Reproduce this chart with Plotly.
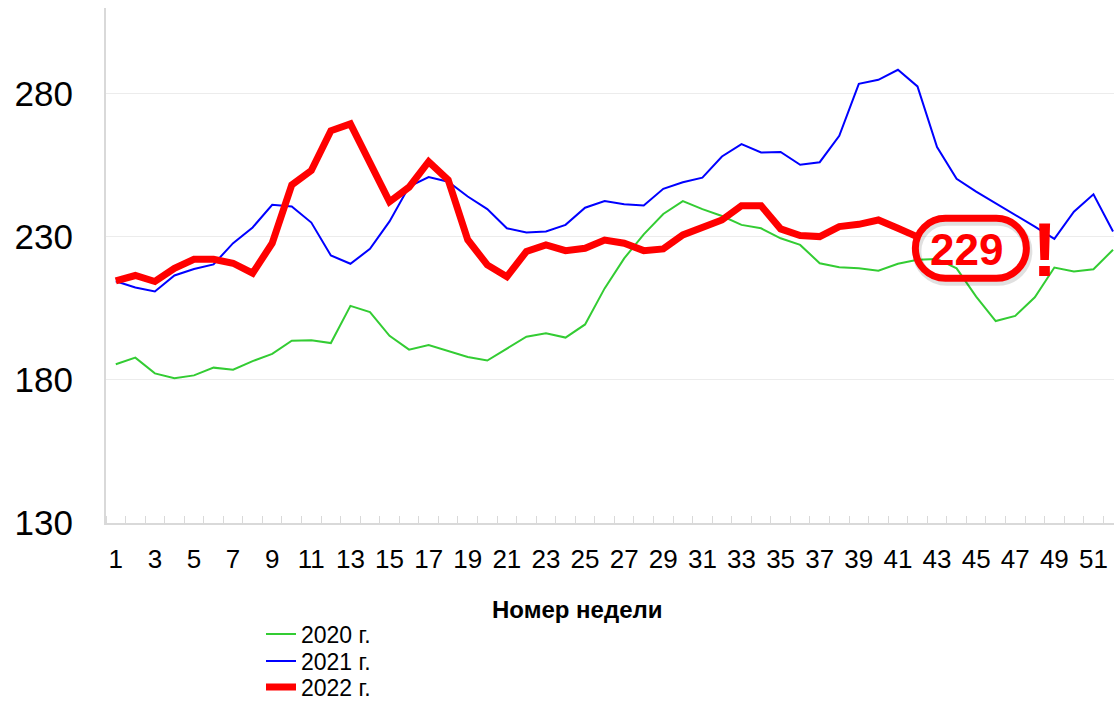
import plotly.graph_objects as go

weeks = list(range(1, 53))
tick_weeks = list(range(1, 52, 2))
tick_labels = [str(w) for w in tick_weeks]

y_ticks = [130, 180, 230, 280]

v2020 = [185.5, 187.8, 182.3, 180.6, 181.6, 184.3, 183.6, 186.6, 189.1, 193.7,
         193.9, 192.9, 205.9, 203.7, 195.4, 190.6, 192.2, 190.1, 188.0, 186.8,
         190.8, 195.1, 196.3, 194.8, 199.4, 212.0, 222.5, 230.9, 238.0, 242.5,
         239.7, 237.3, 234.2, 233.0, 229.5, 227.2, 220.8, 219.4, 219.0, 218.2,
         220.6, 222.0, 222.3, 219.0, 209.1, 200.6, 202.4, 208.9, 219.3, 217.9,
         218.7, 225.5]

v2021 = [214.5, 212.3, 210.9, 216.5, 218.8, 220.4, 227.8, 233.3, 241.2, 240.6,
         235.0, 223.5, 220.6, 225.8, 235.4, 247.6, 250.9, 249.3, 244.1, 239.7,
         233.0, 231.5, 231.9, 234.2, 240.2, 242.5, 241.4, 241.0, 246.8, 249.1,
         250.7, 258.1, 262.4, 259.5, 259.7, 255.2, 256.1, 265.3, 283.5, 284.9,
         288.4, 282.6, 261.4, 250.3, 245.8, 241.8, 237.7, 233.6, 229.3, 238.8,
         244.9, 231.9]

v2022 = [214.6, 216.5, 214.4, 219.0, 222.2, 222.2, 220.8, 217.3, 227.8, 248.2,
         253.2, 267.1, 269.5, 255.2, 242.3, 247.4, 256.3, 249.9, 229.0, 220.2,
         216.1, 224.9, 227.2, 225.2, 226.0, 228.9, 227.8, 225.2, 225.8, 230.7,
         233.4, 235.9, 240.9, 240.9, 232.8, 230.5, 230.1, 233.6, 234.4, 235.9,
         233.0, 230.0]

last_value_label = "229"

FONT = "Liberation Sans, Arial, sans-serif"
PLOT_H = 515.0

def py(pixel_y):
    """paper y coordinate for a pixel row of the 702px-high figure"""
    return (523 - pixel_y) / PLOT_H

fig = go.Figure()
fig.add_trace(go.Scatter(x=weeks, y=v2020, mode="lines", name="2020 г.", legend="legend",
                         line=dict(color="#33cc33", width=2)))
fig.add_trace(go.Scatter(x=weeks, y=v2021, mode="lines", name="2021 г.", legend="legend2",
                         line=dict(color="#0000ff", width=2)))
fig.add_trace(go.Scatter(x=weeks[:len(v2022)], y=v2022, mode="lines", name="2022 г.",
                         legend="legend3", line=dict(color="#ff0000", width=7)))

# stadium-shaped callout around last value (pixel-sized, anchored at data point)
hw, r = 55.5, 30.0
k = 0.5523 * r
s = hw - r
def stadium(dx=0, dy=0):
    return (f"M {-s+dx},{r+dy} L {s+dx},{r+dy} "
            f"C {s+k+dx},{r+dy} {hw+dx},{k+dy} {hw+dx},{dy} "
            f"C {hw+dx},{-k+dy} {s+k+dx},{-r+dy} {s+dx},{-r+dy} "
            f"L {-s+dx},{-r+dy} "
            f"C {-s-k+dx},{-r+dy} {-hw+dx},{-k+dy} {-hw+dx},{dy} "
            f"C {-hw+dx},{k+dy} {-s-k+dx},{r+dy} {-s+dx},{r+dy} Z")

cx, cy = 44.73, 226.0
fig.add_shape(type="path", xref="x", yref="y", xsizemode="pixel", ysizemode="pixel",
              xanchor=cx, yanchor=cy, path=stadium(1.5, -3),
              line=dict(color="rgba(0,0,0,0.12)", width=9), layer="above")
fig.add_shape(type="path", xref="x", yref="y", xsizemode="pixel", ysizemode="pixel",
              xanchor=cx, yanchor=cy, path=stadium(),
              line=dict(color="#ff0000", width=7), layer="above")

fig.add_annotation(x=cx - 0.2, y=cy - 0.5, xref="x", yref="y", text=f"<b>{last_value_label}</b>",
                   showarrow=False, font=dict(family=FONT, size=44, color="#ff0000"))
fig.add_annotation(x=48.5, y=cy - 0.5, xref="x", yref="y", text="<b>!</b>",
                   showarrow=False, font=dict(family=FONT, size=76, color="#ff0000"))

fig.add_annotation(x=(577 - 106) / 1008, y=py(609), xref="paper", yref="paper",
                   text="<b>Номер недели</b>", xanchor="center", yanchor="middle",
                   showarrow=False, font=dict(family=FONT, size=24, color="#000000"))

leg_common = dict(orientation="v", x=(261 - 106) / 1008, xanchor="left", yanchor="middle",
                  font=dict(family=FONT, size=23, color="#000000"),
                  bgcolor="rgba(0,0,0,0)", borderwidth=0)

fig.update_layout(
    width=1114, height=702,
    margin=dict(l=106, r=0, t=8, b=179, autoexpand=False),
    paper_bgcolor="white", plot_bgcolor="white",
    font=dict(family=FONT, color="#000000"),
    showlegend=True,
    legend=dict(leg_common, y=py(634)),
    legend2=dict(leg_common, y=py(661)),
    legend3=dict(leg_common, y=py(687)),
    xaxis=dict(range=[0.5, 52.05], tickmode="array", tickvals=tick_weeks, ticktext=tick_labels,
               showgrid=False, zeroline=False, showline=True, linecolor="#d9d9d9", linewidth=2,
               ticks="", tickfont=dict(family=FONT, size=26, color="#000000"),
               ticklabelstandoff=12, automargin=False,
               minor=dict(tick0=0.5, dtick=1, ticks="inside", ticklen=7,
                          tickcolor="#d9d9d9", tickwidth=1, showgrid=False)),
    yaxis=dict(range=[130, 310], tickmode="array", tickvals=y_ticks,
               showgrid=True, gridcolor="#ececec", gridwidth=1, zeroline=False,
               showline=True, linecolor="#d9d9d9", linewidth=2, ticks="",
               tickfont=dict(family=FONT, size=35, color="#000000"),
               ticklabelstandoff=24, automargin=False),
)

fig.write_html("out.html", config={"displayModeBar": False},
               post_script="document.body.style.margin='0px';")
